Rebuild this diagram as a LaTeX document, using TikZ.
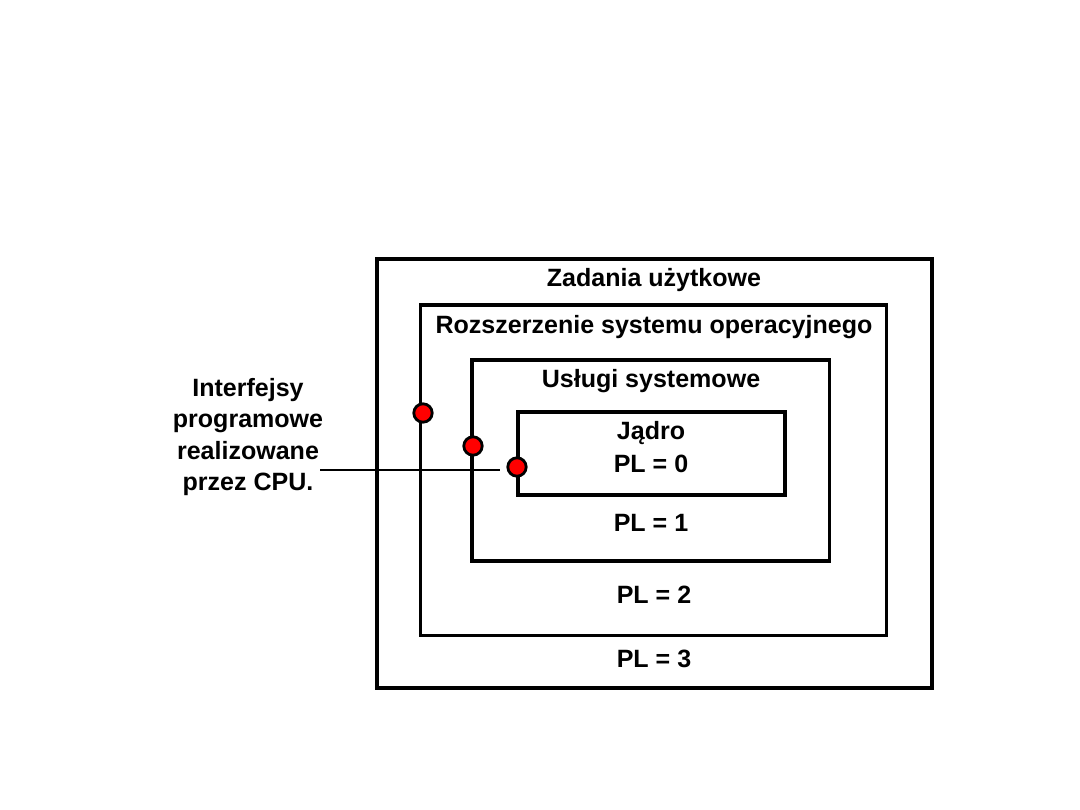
\documentclass[tikz,border=0pt]{standalone}
\usepackage{fontspec}
\setmainfont{Liberation Sans}
\begin{document}
\begin{tikzpicture}[x=0.025cm,y=-0.025cm,
  box/.style={draw=black, inner sep=0pt, outer sep=0pt, line width=2.2pt},
  lbl/.style={font=\fontsize{17.8}{21}\selectfont\bfseries, inner sep=0pt},
  dot/.style={circle, draw=black, fill=red, line width=2pt, minimum size=0.46cm, inner sep=0pt}]
\useasboundingbox[fill=white] (0,0) rectangle (1080,810);
\node[box, line width=2.9pt, minimum width=13.875cm, minimum height=10.725cm] (b3) at (654.5,473.5) {};
\node[box, minimum width=11.625cm, minimum height=8.25cm] (b2) at (653.5,470) {};
\node[box, minimum width=8.925cm, minimum height=5.025cm] (b1) at (650.5,460.5) {};
\node[box, minimum width=6.675cm, minimum height=2.075cm] (b0) at (651.5,453.5) {};
\node[lbl] (t3) at (654,280) {Zadania użytkowe};
\node[lbl] (t2) at (654,327) {Rozszerzenie systemu operacyjnego};
\node[lbl] (t1) at (651,381) {Usługi systemowe};
\node[lbl] (t0) at (651,433) {Jądro};
\node[lbl] (p0) at (651,464) {PL = 0};
\node[lbl] (p1) at (651,523) {PL = 1};
\node[lbl] (p2) at (654,595) {PL = 2};
\node[lbl] (p3) at (654,659) {PL = 3};
\node[lbl, align=center, font=\fontsize{17.8}{22.5}\selectfont\bfseries] (iface) at (248,437) {Interfejsy\\programowe\\realizowane\\przez CPU.};
\coordinate (ls) at (320,470);
\coordinate (le) at (500,470);
\draw[line width=1.9pt] (ls) -- (le);
\node[dot] (d2) at (423,413) {};
\node[dot] (d1) at (473,446) {};
\node[dot] (d0) at (517,467) {};
\end{tikzpicture}
\end{document}
